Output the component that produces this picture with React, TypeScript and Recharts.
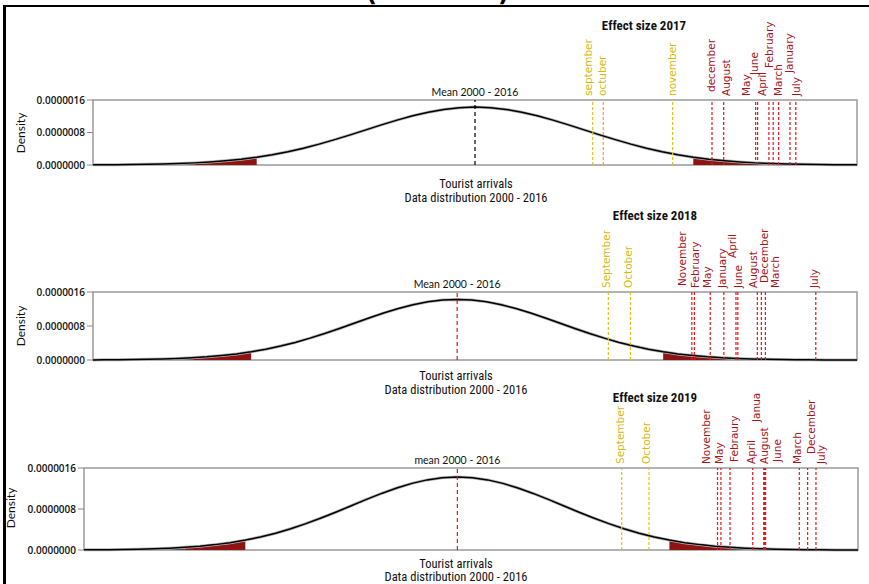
import React from 'react';
import { ComposedChart, Line, Area, XAxis, YAxis, ReferenceLine, ReferenceArea } from 'recharts';

// tourist arrivals (thousands) and density (x 1e-6), distribution 2000 - 2016
const arrivals = [
  0, 40, 80, 120, 160, 200, 240, 280, 320, 360, 400, 440, 480, 520, 560, 600, 640, 680,
  720, 760, 800, 840, 880, 920, 960, 1000, 1040, 1080, 1120, 1160, 1200, 1240, 1280, 1320,
  1360, 1400, 1440, 1480, 1520, 1560, 1600, 1640, 1680, 1720, 1760, 1800, 1840, 1880, 1920,
  1960, 2000, 2040, 2080, 2120,
];
const density = [
  0.0024, 0.004, 0.0064, 0.0102, 0.0158, 0.024, 0.0358, 0.0523, 0.0747, 0.105, 0.143, 0.193,
  0.254, 0.328, 0.414, 0.514, 0.624, 0.741, 0.864, 0.987, 1.104, 1.21, 1.3, 1.368, 1.41, 1.425,
  1.41, 1.368, 1.3, 1.21, 1.104, 0.987, 0.864, 0.741, 0.624, 0.514, 0.414, 0.328, 0.254, 0.193,
  0.143, 0.105, 0.0747, 0.0523, 0.0358, 0.024, 0.0158, 0.0102, 0.0064, 0.004, 0.0024, 0.0014,
  0.0008, 0.0005,
];
const meanArrivals = 1000;
const redTails = [[280, 440], [1560, 1720]];
const grayTails = [[200, 280], [1720, 1800]];
const yTicks = [0, 0.8, 1.6];

const months2017 = ['september', 'octuber', 'november', 'december', 'August', 'May', 'June', 'April', 'February', 'March', 'January', 'July'];
const values2017 = [1302, 1329, 1507, 1608, 1638, 1720, 1725, 1754, 1765, 1779, 1808, 1823];
const yellow2017 = 3;

const months2018 = ['September', 'October', 'November', 'February', 'May', 'January', 'April', 'June', 'August', 'December', 'March', 'July'];
const values2018 = [1411, 1471, 1638, 1645, 1688, 1725, 1758, 1763, 1816, 1827, 1838, 1975];
const yellow2018 = 2;

const months2019 = ['September', 'October', 'November', 'May', 'Febraury', 'April', 'Janua', 'August', 'June', 'March', 'December', 'July'];
const values2019 = [1434, 1506, 1687, 1696, 1720, 1780, 1809, 1811, 1814, 1903, 1925, 1947];
const yellow2019 = 2;

const inRange = (x: number, ranges: number[][]) => ranges.some(([a, b]) => x >= a && x <= b);

const table = arrivals.map((x, i) => ({
  x,
  density: density[i],
  red: inRange(x, redTails) ? density[i] : null,
  gray: inRange(x, grayTails) ? density[i] : null,
}));

// label nudges [dx, lift] so the rotated names sit like the original
const nudge2017: Record<string, number[]> = {
  september: [-4, 0], octuber: [0, 0], november: [0, 0], december: [0, 4], August: [3.6, 0], May: [-9, 0],
  June: [-2.5, 21], April: [-5.7, 0], February: [-3.3, 28], March: [0.6, 0], January: [0, 23], July: [0.7, 0],
};
const nudge2018: Record<string, number[]> = {
  September: [-1.7, 0], October: [-1.3, 0], November: [-9.4, 2], February: [1.4, 0], May: [-2, 0], January: [-1, 0],
  April: [-2.7, 30], June: [0.7, 0], August: [-4, 0], December: [3.7, 5], March: [10, 0], July: [-0.7, 0],
};
const nudge2019: Record<string, number[]> = {
  September: [-1, 0], October: [-2, 0], November: [-10.6, 0], May: [-0.7, 0], Febraury: [5, 2], April: [-1, 0],
  Janua: [-7, 42], August: [0.5, 0], June: [12, 2], March: [-1.7, 0], December: [4, 10], July: [6, 0],
};

const NARROW = '"Liberation Sans Narrow", "Roboto Condensed", Lato, sans-serif';
const YELLOW = '#dfc313';
const YELLOW_TXT = '#d6b910';
const RED = '#e3161c';
const RED_TXT = '#a8141a';

const panels = [
  {
    title: 'Effect size 2017', titleX: 644, titleY: 25,
    months: months2017, values: values2017, yellow: yellow2017, nudge: nudge2017,
    domain: [20, 1980], top: 0, height: 175, marginTop: 100, left: 93, right: 857,
    meanLabel: 'Mean 2000 - 2016', meanColor: '#000',
    densityX: 21, densityY: 133, xLabelX: 476, xLabelY: 191, xGap: 14,
  },
  {
    title: 'Effect size 2018', titleX: 655, titleY: 215,
    months: months2018, values: values2018, yellow: yellow2018, nudge: nudge2018,
    domain: [10, 2087], top: 190, height: 180, marginTop: 102, left: 93, right: 857,
    meanLabel: 'Mean 2000 - 2016', meanColor: RED,
    densityX: 21, densityY: 326, xLabelX: 456, xLabelY: 383, xGap: 14,
  },
  {
    title: 'Effect size 2019', titleX: 655, titleY: 397,
    months: months2019, values: values2019, yellow: yellow2019, nudge: nudge2019,
    domain: [14, 2058], top: 380, height: 180, marginTop: 88, left: 84, right: 858,
    meanLabel: 'mean 2000 - 2016', meanColor: RED,
    densityX: 11, densityY: 508, xLabelX: 456, xLabelY: 571.3, xGap: 12.6,
  },
];

const monthLabel = (name: string, color: string, dx: number, lift: number) => (props: any) => {
  const vb = props.viewBox || {};
  const x0 = vb.x + 3.2 + dx;
  const y0 = vb.y - 4 - lift;
  return (
    <text x={x0} y={y0} transform={`rotate(-90 ${x0} ${y0})`} fill={color} fontSize={10.5}
      fontFamily="DejaVu Sans" textAnchor="start">{name}</text>
  );
};

const meanLabel = (text: string) => (props: any) => {
  const vb = props.viewBox || {};
  return (
    <text x={vb.x} y={vb.y - 8} fill="#111" fontSize={10.5} fontFamily="Lato" textAnchor="middle"
      dominantBaseline="central">{text}</text>
  );
};

const Txt = ({ x, y, size, children, weight, rotate, font, lh }: any) => (
  <div style={{
    position: 'absolute', left: x, top: y, transform: `translate(-50%, -50%)${rotate ? ' rotate(-90deg)' : ''}`,
    whiteSpace: 'nowrap', fontFamily: font || NARROW, fontSize: size, fontWeight: weight || 400,
    lineHeight: lh ? `${lh}px` : 1, color: '#111', textAlign: 'center',
  }}>{children}</div>
);

const Panel = ({ p }: any) => {
  const yW = 80;
  return (
    <div style={{ position: 'absolute', left: 0, top: p.top }}>
      <ComposedChart width={869} height={p.height} data={table}
        margin={{ top: p.marginTop, bottom: 10, left: p.left - yW, right: 869 - p.right }}>
        <XAxis type="number" dataKey="x" domain={p.domain} allowDataOverflow hide />
        <YAxis type="number" domain={[0, 1.6]} ticks={yTicks} width={yW} axisLine={false}
          tickLine={{ stroke: '#888' }} tickSize={6}
          tick={{ fontSize: 10, fontWeight: 600, fill: '#111', fontFamily: 'Open Sans' }}
          tickFormatter={(v: number) => (v / 1e6).toFixed(7)} />
        <ReferenceArea x1={p.domain[0]} x2={p.domain[1]} y1={0} y2={1.6} fill="none" stroke="#9a9a9a" strokeWidth={1.5} />
        <Area dataKey="gray" type="linear" fill="#4a4a4a" fillOpacity={1} stroke="none" isAnimationActive={false} />
        <Area dataKey="red" type="linear" fill="#8e1414" fillOpacity={1} stroke="none" isAnimationActive={false} />
        <Line dataKey="density" type="linear" stroke="#b5b5b5" strokeWidth={3} dot={false} isAnimationActive={false} />
        <Line dataKey="density" type="linear" stroke="#000" strokeWidth={1.5} dot={false} isAnimationActive={false} />
        <ReferenceLine x={meanArrivals} stroke={p.meanColor} strokeWidth={1.2} strokeDasharray="4 3"
          label={meanLabel(p.meanLabel)} />
        {p.months.map((m: string, i: number) => {
          const yellow = i < p.yellow;
          const n = p.nudge[m] || [0, 0];
          const lineColor = yellow ? (m === 'octuber' ? '#f0a030' : YELLOW) : RED;
          return (
            <ReferenceLine key={m} x={p.values[i]} stroke={lineColor} strokeWidth={1.2} strokeDasharray="3 2"
              label={monthLabel(m, yellow ? YELLOW_TXT : RED_TXT, n[0], n[1])} />
          );
        })}
      </ComposedChart>
      <Txt x={p.titleX} y={p.titleY - p.top} size={13} weight={700}>{p.title}</Txt>
      <Txt x={p.densityX} y={p.densityY - p.top} size={12} rotate font="Lato">Density</Txt>
      <Txt x={p.xLabelX} y={p.xLabelY - p.top} size={12.5} lh={p.xGap}>
        Tourist arrivals<br />Data distribution 2000 - 2016
      </Txt>
    </div>
  );
};

export default function App() {
  return (
    <div style={{ position: 'absolute', left: 0, top: 0, width: 869, height: 584, overflow: 'hidden', background: '#fff' }}>
      <div style={{ position: 'absolute', left: 3, top: 5, width: 1000, height: 1000, borderLeft: '3px solid #000', borderTop: '2.5px solid #000' }} />
      <div style={{ position: 'absolute', left: 366, top: -19, fontSize: 24, fontWeight: 700, lineHeight: '24px', fontFamily: 'DejaVu Sans' }}>(</div>
      <div style={{ position: 'absolute', left: 498, top: -19, fontSize: 24, fontWeight: 700, lineHeight: '24px', fontFamily: 'DejaVu Sans' }}>)</div>
      {panels.map((p) => <Panel key={p.title} p={p} />)}
    </div>
  );
}
